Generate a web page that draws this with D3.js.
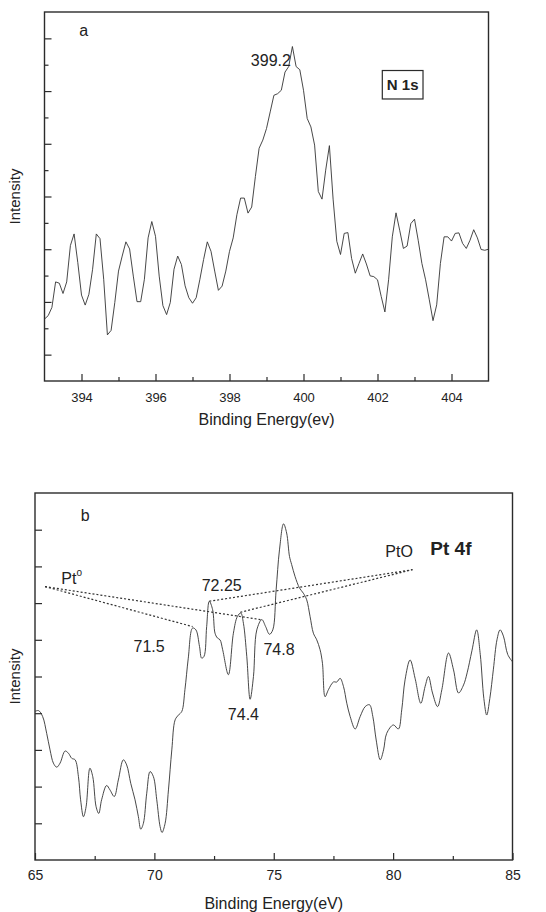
<!DOCTYPE html>
<html>
<head>
<meta charset="utf-8">
<script src="https://cdn.jsdelivr.net/npm/d3@7"></script>
<style>
  body { margin: 0; background: #fff; }
  text { font-family: "Liberation Sans", Arial, sans-serif; fill: #222; }
</style>
</head>
<body>
<svg id="chart" width="546" height="912"></svg>
<script>
// ---- panel a : N 1s ----
const n1sEnergy = [
  393.0,393.1,393.2,393.3,393.4,393.5,393.6,393.7,393.8,393.9,
  394.0,394.1,394.2,394.3,394.4,394.5,394.6,394.7,394.8,394.9,
  395.0,395.1,395.2,395.3,395.4,395.5,395.6,395.7,395.8,395.9,
  396.0,396.1,396.2,396.3,396.4,396.5,396.6,396.7,396.8,396.9,
  397.0,397.1,397.2,397.3,397.4,397.5,397.6,397.7,397.8,397.9,
  398.0,398.1,398.2,398.3,398.4,398.5,398.6,398.7,398.8,398.9,
  399.0,399.1,399.2,399.3,399.4,399.5,399.6,399.7,399.8,399.9,
  400.0,400.1,400.2,400.3,400.4,400.5,400.6,400.7,400.8,400.9,
  401.0,401.1,401.2,401.3,401.4,401.5,401.6,401.7,401.8,401.9,
  402.0,402.1,402.2,402.3,402.4,402.5,402.6,402.7,402.8,402.9,
  403.0,403.1,403.2,403.3,403.4,403.5,403.6,403.7,403.8,403.9,
  404.0,404.1,404.2,404.3,404.4,404.5,404.6,404.7,404.8,404.9,
  405.0
];
const n1sIntensity = [
  2.35,2.48,2.79,3.76,3.71,3.32,3.76,5.14,5.58,4.49,
  3.26,2.88,3.29,4.24,5.58,5.40,3.86,1.75,1.92,2.98,
  4.17,4.74,5.28,5.01,3.98,3.01,3.01,3.86,5.43,6.05,
  5.49,3.98,2.86,2.52,2.98,4.24,4.74,4.42,3.61,3.16,
  2.95,3.16,3.86,4.61,5.28,4.92,4.17,3.44,3.60,4.17,
  4.92,5.43,6.31,6.94,6.94,6.37,6.60,7.76,8.83,9.14,
  9.58,10.21,10.84,10.90,11.03,11.72,11.93,12.69,11.93,11.81,
  11.03,9.96,9.64,8.95,7.19,6.90,8.00,8.93,6.90,5.30,
  4.80,5.60,5.63,4.65,4.09,4.46,4.82,4.44,3.99,3.96,
  3.84,3.21,2.62,3.84,5.47,6.38,5.72,5.03,5.12,5.97,
  6.14,5.34,4.46,3.84,3.08,2.29,2.89,4.46,5.47,5.47,
  5.31,5.60,5.62,5.22,5.03,5.34,5.74,5.43,4.99,4.96,
  5.00
];
const n1sMajorTicks = [394, 396, 398, 400, 402, 404];
const n1sMinorTicks = [395, 397, 399, 401, 403];

// ---- panel b : Pt 4f ----
const pt4fEnergy = [
  65.0,65.15,65.32,65.49,65.63,65.77,65.91,66.05,66.26,66.4,
  66.54,66.68,66.82,66.91,67.03,67.14,67.3,67.42,67.56,67.67,
  67.79,68.0,68.14,68.32,68.49,68.7,68.84,69.01,69.19,69.33,
  69.43,69.54,69.68,69.82,69.96,70.1,70.24,70.32,70.45,70.59,
  70.73,70.87,71.01,71.15,71.28,71.42,71.6,71.74,71.89,71.98,
  72.08,72.19,72.3,72.44,72.54,72.64,72.75,72.86,73.1,73.31,
  73.48,73.62,73.73,73.87,74.01,74.15,74.29,74.5,74.66,74.82,
  74.96,75.1,75.24,75.41,75.54,75.66,75.75,75.89,76.08,76.24,
  76.38,76.52,76.66,76.8,76.94,77.04,77.15,77.29,77.5,77.64,
  77.78,77.92,78.06,78.2,78.41,78.62,78.83,79.01,79.15,79.29,
  79.46,79.6,79.73,80.01,80.22,80.36,80.5,80.71,80.92,81.16,
  81.34,81.48,81.65,81.86,82.04,82.32,82.53,82.74,82.95,83.1,
  83.3,83.5,83.65,83.8,83.92,84.05,84.2,84.35,84.48,84.62,
  84.8,85.0
];
const pt4fIntensity = [
  4.05,4.07,3.91,3.45,3.00,2.64,2.53,2.64,2.97,2.91,
  2.77,2.73,2.27,1.64,1.18,1.45,2.50,2.27,1.45,1.27,
  1.64,2.03,1.91,1.73,2.18,2.73,2.59,2.09,1.64,1.18,
  0.84,1.00,1.82,2.41,2.27,1.64,0.91,0.75,1.00,1.91,
  3.00,3.82,3.95,4.05,4.64,5.50,6.32,6.27,5.82,5.50,
  5.55,6.36,7.05,6.82,6.18,6.05,6.00,5.73,5.05,6.18,
  6.64,6.73,6.45,5.55,4.38,5.00,6.27,6.55,6.36,6.15,
  6.27,7.36,8.45,9.16,8.91,8.27,8.05,7.73,7.41,7.27,
  7.09,6.64,6.18,6.00,5.73,5.36,4.45,4.64,4.85,4.85,
  4.95,4.73,4.27,3.91,3.57,3.91,4.18,4.23,3.91,3.27,
  2.73,3.00,3.45,3.68,3.57,4.09,4.91,5.45,4.95,4.27,
  4.73,5.00,4.55,4.18,4.64,5.64,5.18,4.55,4.77,5.10,
  5.70,6.27,5.60,4.40,3.95,4.40,5.20,6.00,6.27,6.10,
  5.60,5.40
];
const pt4fMajorTicks = [65, 70, 75, 80, 85];
const pt4fMinorTicks = [67.5, 72.5, 77.5, 82.5];

// dotted guide lines (energy, intensity) : Pt0 pair and PtO pair
const ptMetalLines = [
  [[65.42, 7.45], [71.6, 6.36]],
  [[65.42, 7.45], [74.45, 6.55]]
];
const ptOxideLines = [
  [[72.3, 7.05], [80.81, 7.91]],
  [[73.6, 6.75], [80.81, 7.91]]
];
const peakLabels = [
  { text: "72.25", e: 72.82, i: 7.47 },
  { text: "71.5",  e: 69.78, i: 5.82 },
  { text: "74.8",  e: 75.22, i: 5.73 },
  { text: "74.4",  e: 73.73, i: 3.97 }
];

const svg = d3.select("#chart");
const ink = "#2b2b2b";

function drawPanel(cfg) {
  const x = d3.scaleLinear().domain(cfg.xDomain).range([cfg.left, cfg.right]);
  const y = d3.scaleLinear().domain(cfg.yDomain).range([cfg.bottom, cfg.top]);
  const g = svg.append("g");

  // x axis, ticks pointing inward
  const xMaj = g.append("g").attr("transform", `translate(0,${cfg.bottom})`)
    .call(d3.axisBottom(x).tickValues(cfg.major).tickSize(-7).tickPadding(cfg.labelPad).tickFormat(d3.format("d")));
  xMaj.select(".domain").remove();
  xMaj.selectAll("line").attr("stroke", ink).attr("stroke-width", 1.2);
  xMaj.selectAll("text").attr("font-size", cfg.tickFont).attr("fill", "#222");
  const xMin = g.append("g").attr("transform", `translate(0,${cfg.bottom})`)
    .call(d3.axisBottom(x).tickValues(cfg.minor).tickSize(-4).tickFormat(""));
  xMin.select(".domain").remove();
  xMin.selectAll("line").attr("stroke", ink).attr("stroke-width", 1.2);

  // y axis, no labels
  const yMaj = g.append("g").attr("transform", `translate(${cfg.left},0)`)
    .call(d3.axisLeft(y).tickValues(cfg.yMajor).tickSize(-7).tickFormat(""));
  yMaj.select(".domain").remove();
  yMaj.selectAll("line").attr("stroke", ink).attr("stroke-width", 1.2);
  if (cfg.yMinor.length) {
    const yMin = g.append("g").attr("transform", `translate(${cfg.left},0)`)
      .call(d3.axisLeft(y).tickValues(cfg.yMinor).tickSize(-4).tickFormat(""));
    yMin.select(".domain").remove();
    yMin.selectAll("line").attr("stroke", ink).attr("stroke-width", 1.2);
  }

  // frame
  g.append("rect")
    .attr("x", cfg.left).attr("y", cfg.top)
    .attr("width", cfg.right - cfg.left).attr("height", cfg.bottom - cfg.top)
    .attr("fill", "none").attr("stroke", ink).attr("stroke-width", 1.4);

  // spectrum
  const pts = cfg.energy.map((e, k) => [e, cfg.intensity[k]]);
  g.append("path")
    .datum(pts)
    .attr("fill", "none").attr("stroke", "#333").attr("stroke-width", 0.9)
    .attr("d", d3.line().x(d => x(d[0])).y(d => y(d[1])).curve(cfg.curve));

  // titles
  g.append("text")
    .attr("x", (cfg.left + cfg.right) / 2).attr("y", cfg.titleY)
    .attr("text-anchor", "middle").attr("font-size", 16)
    .text(cfg.xTitle);
  g.append("text")
    .attr("transform", `translate(20,${(cfg.top + cfg.bottom) / 2}) rotate(-90)`)
    .attr("text-anchor", "middle").attr("font-size", 15)
    .text("Intensity");

  return { g, x, y };
}

// panel a
const a = drawPanel({
  xDomain: [393, 405], yDomain: [0, 14],
  left: 44.5, right: 488.5, top: 12, bottom: 381,
  major: n1sMajorTicks, minor: n1sMinorTicks,
  yMajor: [1, 3, 5, 7, 9, 11, 13], yMinor: [2, 4, 6, 8, 10, 12],
  energy: n1sEnergy, intensity: n1sIntensity,
  curve: d3.curveLinear, labelPad: 12, tickFont: 13,
  xTitle: "Binding Energy(ev)", titleY: 425
});
a.g.append("text").attr("x", a.x(394.06)).attr("y", a.y(13.29)).attr("dy", "0.35em")
  .attr("text-anchor", "middle").attr("font-size", 16).text("a");
a.g.append("text").attr("x", a.x(399.66)).attr("y", a.y(12.18)).attr("dy", "0.35em")
  .attr("text-anchor", "end").attr("font-size", 16).text("399.2");
a.g.append("rect")
  .attr("x", a.x(402.13)).attr("y", a.y(11.78))
  .attr("width", a.x(403.23) - a.x(402.13)).attr("height", a.y(10.70) - a.y(11.78))
  .attr("fill", "none").attr("stroke", ink).attr("stroke-width", 1.2);
a.g.append("text").attr("x", a.x(402.68)).attr("y", a.y(11.24)).attr("dy", "0.36em")
  .attr("text-anchor", "middle").attr("font-size", 15).attr("font-weight", "bold").text("N 1s");

// panel b
const b = drawPanel({
  xDomain: [65, 85], yDomain: [0, 10],
  left: 35, right: 512.5, top: 493, bottom: 860,
  major: pt4fMajorTicks, minor: pt4fMinorTicks,
  yMajor: [1, 2, 3, 4, 5, 6, 7, 8, 9], yMinor: [],
  energy: pt4fEnergy, intensity: pt4fIntensity,
  curve: d3.curveCatmullRom.alpha(0.5), labelPad: 10, tickFont: 14,
  xTitle: "Binding Energy(eV)", titleY: 909
});

const guide = d3.line().x(d => b.x(d[0])).y(d => b.y(d[1]));
b.g.selectAll("path.guide")
  .data(ptMetalLines.concat(ptOxideLines))
  .join("path")
  .attr("class", "guide")
  .attr("fill", "none").attr("stroke", "#333").attr("stroke-width", 1.2)
  .attr("stroke-dasharray", "2,2")
  .attr("d", guide);

b.g.selectAll("text.peak")
  .data(peakLabels)
  .join("text")
  .attr("class", "peak")
  .attr("x", d => b.x(d.e)).attr("y", d => b.y(d.i)).attr("dy", "0.35em")
  .attr("text-anchor", "middle").attr("font-size", 16)
  .text(d => d.text);

b.g.append("text").attr("x", b.x(67.1)).attr("y", b.y(9.39)).attr("dy", "0.35em")
  .attr("text-anchor", "middle").attr("font-size", 16).text("b");
const ptMetal = b.g.append("text").attr("x", b.x(66.1)).attr("y", b.y(7.68)).attr("dy", "0.35em")
  .attr("font-size", 16);
ptMetal.append("tspan").text("Pt");
ptMetal.append("tspan").attr("font-size", 10).attr("dy", "-0.75em").text("o");
b.g.append("text").attr("x", b.x(80.25)).attr("y", b.y(8.41)).attr("dy", "0.35em")
  .attr("text-anchor", "middle").attr("font-size", 16).text("PtO");
b.g.append("text").attr("x", b.x(82.42)).attr("y", b.y(8.5)).attr("dy", "0.36em")
  .attr("text-anchor", "middle").attr("font-size", 19).attr("font-weight", "bold").text("Pt 4f");
</script>
</body>
</html>
